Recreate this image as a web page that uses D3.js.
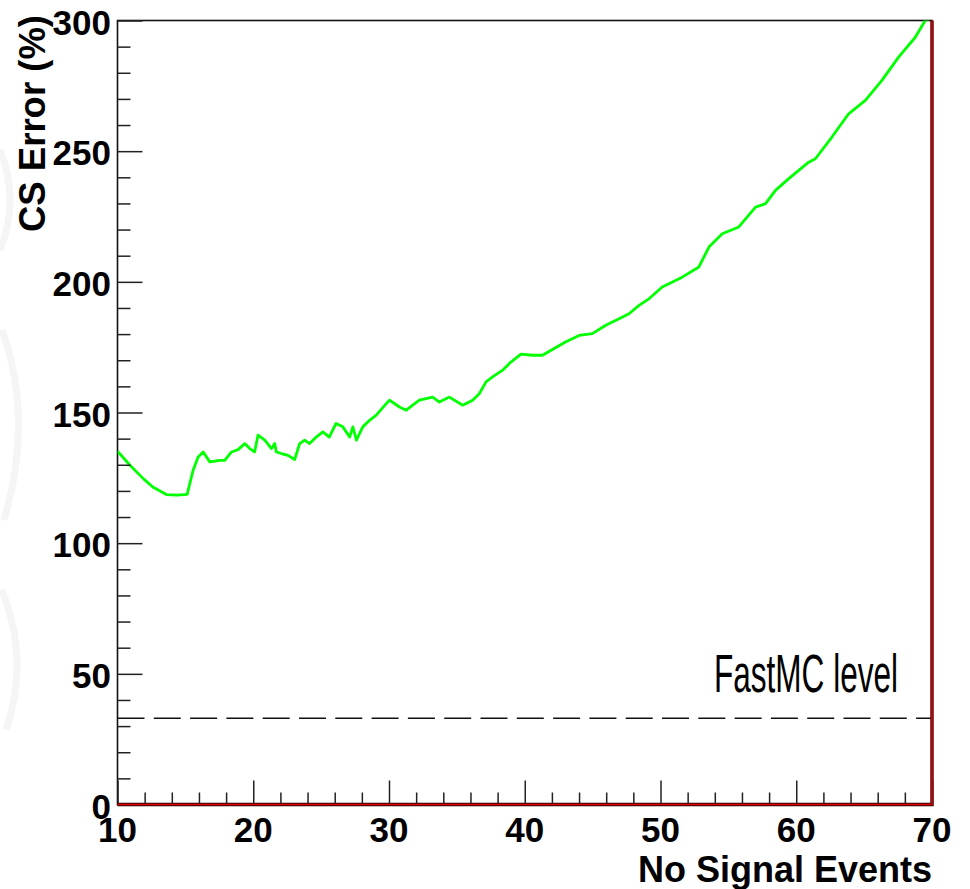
<!DOCTYPE html>
<html lang="en">
<head>
    <meta charset="UTF-8">
    <title>CS Error vs No Signal Events</title>
    <script src="https://d3js.org/d3.v7.min.js"></script>
    <style>
        body {
            margin: 0;
            padding: 0;
            background-color: #fff;
        }
        svg {
            display: block;
            font-family: "Liberation Sans", Arial, sans-serif;
        }
    </style>
</head>
<body>
    <div id="chart"></div>

    <script>
        // values
        const eventsX = [10, 10.92, 11.9, 12.6, 13.6, 14.4, 15.13, 15.57, 15.94, 16.31, 16.8, 17.54, 17.9, 18.4, 18.88,
            19.38, 19.74, 20.1, 20.35, 20.85, 21.34, 21.58, 21.7, 22.07, 22.56, 23.05, 23.42, 23.79, 24.15, 24.64,
            25.13, 25.6, 26.1, 26.6, 27.1, 27.34, 27.6, 28.07, 28.57, 29.06, 29.8, 30.04, 30.77, 31.27, 31.75, 32.24,
            33.22, 33.71, 34.45, 35.43, 36.16, 36.65, 37.15, 37.63, 38.37, 38.98, 39.72, 40.57, 41.3, 42.04, 43.0,
            44.0, 44.98, 45.97, 46.95, 47.68, 48.42, 49.15, 50.13, 51.6, 52.83, 53.57, 54.55, 55.77, 57.0, 57.74,
            58.47, 59.45, 60.92, 61.41, 62.63, 63.86, 65.09, 66.31, 67.54, 68.77, 69.5, 70];
        const csError = [135.2, 129.8, 124.7, 121.5, 118.6, 118.4, 118.7, 127.9, 133, 134.9, 131.1, 131.7, 131.7, 134.9, 135.8,
            138.1, 136.2, 134.9, 141.3, 139.4, 136.2, 138.1, 134.9, 134.3, 133.6, 132.0, 138.1, 139.4, 138.1, 140.6,
            142.6, 140.6, 145.8, 144.5, 140.6, 144.5, 139.4, 144.5, 147, 149, 153.4, 154.7, 152.1, 150.9, 152.8, 154.7,
            155.9, 154.0, 155.9, 152.8, 154.7, 157.2, 161.7, 163.6, 166.2, 169.3, 172.3, 171.9, 171.9, 174.1, 177,
            179.5, 180.2, 183.4, 185.9, 187.8, 191, 193.5, 198, 201.8, 205.7, 213.3, 218.4, 221, 228.6, 229.9,
            235, 239.5, 245.8, 247.1, 255.4, 264.3, 269.4, 277.1, 286, 293.6, 300, 301];
        const fastMCLevel = 33;
        const xTicks = [10, 20, 30, 40, 50, 60, 70];
        const yTicks = [0, 50, 100, 150, 200, 250, 300];

        const width = 970, height = 889;
        const mLeft = 117.5, mRight = 932, mTop = 20.5, mBottom = 804.5;

        const svg = d3.select("#chart")
            .append("svg")
            .attr("width", width)
            .attr("height", height);

        // faint watermark arcs at the left edge
        const wm = svg.append("g").attr("fill", "none").attr("stroke", "#f5f5f5").attr("stroke-width", 7);
        wm.append("path").attr("d", "M2,330 Q34,420 4,520");
        wm.append("path").attr("d", "M2,590 Q30,660 6,730");
        wm.append("path").attr("d", "M0,150 Q20,200 0,250");

        const x = d3.scaleLinear().domain([10, 70]).range([mLeft, mRight]);
        const y = d3.scaleLinear().domain([0, 300]).range([mBottom, mTop]);

        // clip for the curve
        svg.append("clipPath").attr("id", "plot")
            .append("rect")
            .attr("x", mLeft).attr("y", mTop)
            .attr("width", mRight - mLeft).attr("height", mBottom - mTop);

        // frame
        svg.append("rect")
            .attr("x", mLeft).attr("y", mTop)
            .attr("width", mRight - mLeft).attr("height", mBottom - mTop)
            .attr("fill", "none")
            .attr("stroke", "#111")
            .attr("stroke-width", 1.6);

        // fastMC dashed line
        svg.append("line")
            .attr("x1", x(10)).attr("x2", x(70))
            .attr("y1", y(fastMCLevel)).attr("y2", y(fastMCLevel))
            .attr("stroke", "#111")
            .attr("stroke-width", 1.6)
            .attr("stroke-dasharray", "27,9.3");

        svg.append("text")
            .attr("x", 714)
            .attr("y", 692)
            .attr("font-size", 54)
            .attr("textLength", 184)
            .attr("lengthAdjust", "spacingAndGlyphs")
            .attr("fill", "#000")
            .text("FastMC level");

        // green curve
        const pts = eventsX.map((d, i) => [d, csError[i]]);
        const line = d3.line().x(d => x(d[0])).y(d => y(d[1]));
        svg.append("path")
            .datum(pts)
            .attr("clip-path", "url(#plot)")
            .attr("d", line)
            .attr("fill", "none")
            .attr("stroke", "#00ff00")
            .attr("stroke-width", 2.8)
            .attr("stroke-linejoin", "round");

        // axes (ROOT style ticks pointing inwards)
        const yAxis = d3.axisRight(y)
            .tickValues(d3.range(0, 301, 10))
            .tickSize(0)
            .tickFormat("");
        const gy = svg.append("g").attr("transform", `translate(${mLeft},0)`).call(yAxis);
        gy.select(".domain").remove();
        gy.selectAll(".tick line")
            .attr("x2", d => d % 50 === 0 ? 25 : 13)
            .attr("stroke", "#222")
            .attr("stroke-width", 1.5);

        const xAxis = d3.axisTop(x)
            .tickValues(d3.range(10, 71, 2))
            .tickSize(0)
            .tickFormat("");
        const gx = svg.append("g").attr("transform", `translate(0,${mBottom})`).call(xAxis);
        gx.select(".domain").remove();
        gx.selectAll(".tick line")
            .attr("y2", d => d % 10 === 0 ? -24 : -12)
            .attr("stroke", "#222")
            .attr("stroke-width", 1.5);

        // red bottom and right edges
        const edge = `M${mLeft},${mBottom}H${mRight}V${mTop}`;
        svg.append("path").attr("d", edge).attr("fill", "none")
            .attr("stroke", "#300").attr("stroke-width", 3.4);
        svg.append("path").attr("d", edge).attr("fill", "none")
            .attr("stroke", "#e00000").attr("stroke-width", 1.6);

        // tick labels
        svg.append("g").selectAll("text")
            .data(yTicks)
            .join("text")
            .attr("x", 111)
            .attr("y", d => y(d) + 14)
            .attr("text-anchor", "end")
            .attr("font-size", 35)
            .attr("font-weight", "bold")
            .text(d => d);

        svg.append("g").selectAll("text")
            .data(xTicks)
            .join("text")
            .attr("x", d => x(d))
            .attr("y", 842)
            .attr("text-anchor", "middle")
            .attr("font-size", 35)
            .attr("font-weight", "bold")
            .text(d => d);

        // axis titles
        svg.append("text")
            .attr("transform", "translate(45,15) rotate(-90)")
            .attr("text-anchor", "end")
            .attr("font-size", 36.5)
            .attr("font-weight", "bold")
            .text("CS Error (%)");

        svg.append("text")
            .attr("x", 932)
            .attr("y", 882)
            .attr("text-anchor", "end")
            .attr("font-size", 36)
            .attr("font-weight", "bold")
            .text("No Signal Events");
    </script>
</body>
</html>
